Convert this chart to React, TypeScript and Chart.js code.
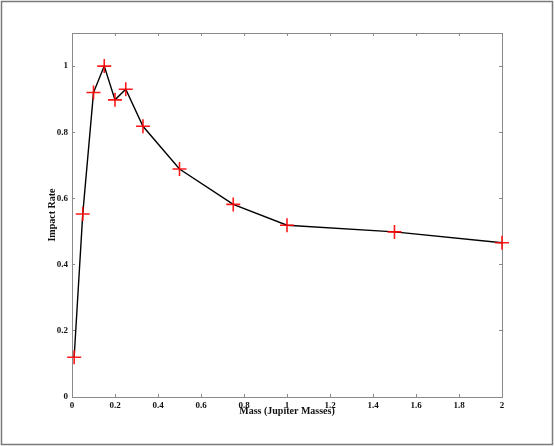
import { useEffect, useRef } from 'react';
import { Chart, registerables } from 'chart.js';

Chart.register(...registerables);

// Planet mass (Jupiter masses) vs normalised impact rate
const masses = [0.01, 0.05, 0.1, 0.15, 0.2, 0.25, 0.33, 0.5, 0.75, 1, 1.5, 2];
const impactRates = [0.12, 0.553, 0.92, 1.0, 0.898, 0.93, 0.818, 0.689, 0.582, 0.519, 0.499, 0.466];

const xTitle = 'Mass (Jupiter Masses)';
const yTitle = 'Impact Rate';

const SERIF = '"Liberation Serif", "Times New Roman", serif';
const AXIS_GRAY = '#8a8a8a';

// white background + grey frame round the whole figure
const framePlugin = {
  id: 'frame',
  beforeDraw(chart: Chart) {
    const { ctx, width, height } = chart;
    ctx.save();
    ctx.fillStyle = '#ffffff';
    ctx.fillRect(0, 0, width, height);
    ctx.restore();
  },
  afterDraw(chart: Chart) {
    const { ctx } = chart;
    ctx.save();
    ctx.strokeStyle = '#7a7a7a';
    ctx.lineWidth = 1.5;
    ctx.strokeRect(1.5, 1.5, 551, 443);
    ctx.restore();
  },
};

const fmt = (v: number | string) => {
  const n = Number(v);
  return Number(n.toFixed(1)).toString();
};

export default function App() {
  const canvasRef = useRef<HTMLCanvasElement>(null);

  useEffect(() => {
    if (!canvasRef.current) return;
    const ctx = canvasRef.current.getContext('2d');
    if (!ctx) return;

    const tickFont = { family: SERIF, size: 9, weight: 'bold' as const };
    const titleFont = { family: SERIF, size: 10, weight: 'bold' as const };
    const keepUpToOne = (scale: any) => {
      scale.ticks = scale.ticks.filter((t: any) => t.value <= 1.0001);
    };

    const chart = new Chart(ctx, {
      type: 'line',
      data: {
        datasets: [
          {
            data: masses.map((m, i) => ({ x: m, y: impactRates[i] })),
            borderColor: '#000000',
            borderWidth: 1.4,
            tension: 0,
            fill: false,
            clip: false,
            pointStyle: 'cross',
            pointRadius: 7,
            pointHoverRadius: 7,
            pointBorderColor: 'rgba(255, 0, 0, 0.9)',
            pointBorderWidth: 1.6,
            pointBackgroundColor: 'rgba(255, 0, 0, 0.9)',
          },
        ],
      },
      options: {
        animation: false,
        responsive: false,
        devicePixelRatio: 1,
        layout: { padding: { left: 0, top: 33, right: 53, bottom: 0 } },
        plugins: {
          legend: { display: false },
          tooltip: { enabled: false },
        },
        scales: {
          x: {
            type: 'linear',
            position: 'bottom',
            min: 0,
            max: 2,
            afterFit: (s: any) => {
              s.height = 49;
            },
            ticks: {
              stepSize: 0.2,
              font: tickFont,
              color: '#111',
              padding: 6,
              callback: fmt,
              maxRotation: 0,
            },
            grid: { drawOnChartArea: false, tickLength: -3, color: AXIS_GRAY },
            border: { color: AXIS_GRAY, width: 1 },
            title: { display: true, text: xTitle, font: titleFont, color: '#111', padding: 29 },
          },
          y: {
            type: 'linear',
            position: 'left',
            min: 0,
            max: 1.1,
            afterFit: (s: any) => {
              s.width = 72;
            },
            afterBuildTicks: keepUpToOne,
            ticks: { stepSize: 0.2, font: tickFont, color: '#111', padding: 7, callback: fmt },
            grid: { drawOnChartArea: false, tickLength: -3, color: AXIS_GRAY },
            border: { color: AXIS_GRAY, width: 1 },
            title: { display: true, text: yTitle, font: titleFont, color: '#111', padding: 46 },
          },
          x2: {
            type: 'linear',
            position: 'top',
            min: 0,
            max: 2,
            afterFit: (s: any) => {
              s.height = 0;
            },
            ticks: { stepSize: 0.2, display: false },
            grid: { drawOnChartArea: false, tickLength: -3, color: AXIS_GRAY },
            border: { color: AXIS_GRAY, width: 1 },
          },
          y2: {
            type: 'linear',
            position: 'right',
            min: 0,
            max: 1.1,
            afterFit: (s: any) => {
              s.width = 0;
            },
            afterBuildTicks: keepUpToOne,
            ticks: { stepSize: 0.2, display: false },
            grid: { drawOnChartArea: false, tickLength: -3, color: AXIS_GRAY },
            border: { color: AXIS_GRAY, width: 1 },
          },
        },
      },
      plugins: [framePlugin],
    });

    return () => chart.destroy();
  }, []);

  return (
    <div style={{ position: 'fixed', left: 0, top: 0, width: 555, height: 446, background: '#fff' }}>
      <canvas ref={canvasRef} width={555} height={446} style={{ display: 'block', width: 555, height: 446 }} />
    </div>
  );
}
